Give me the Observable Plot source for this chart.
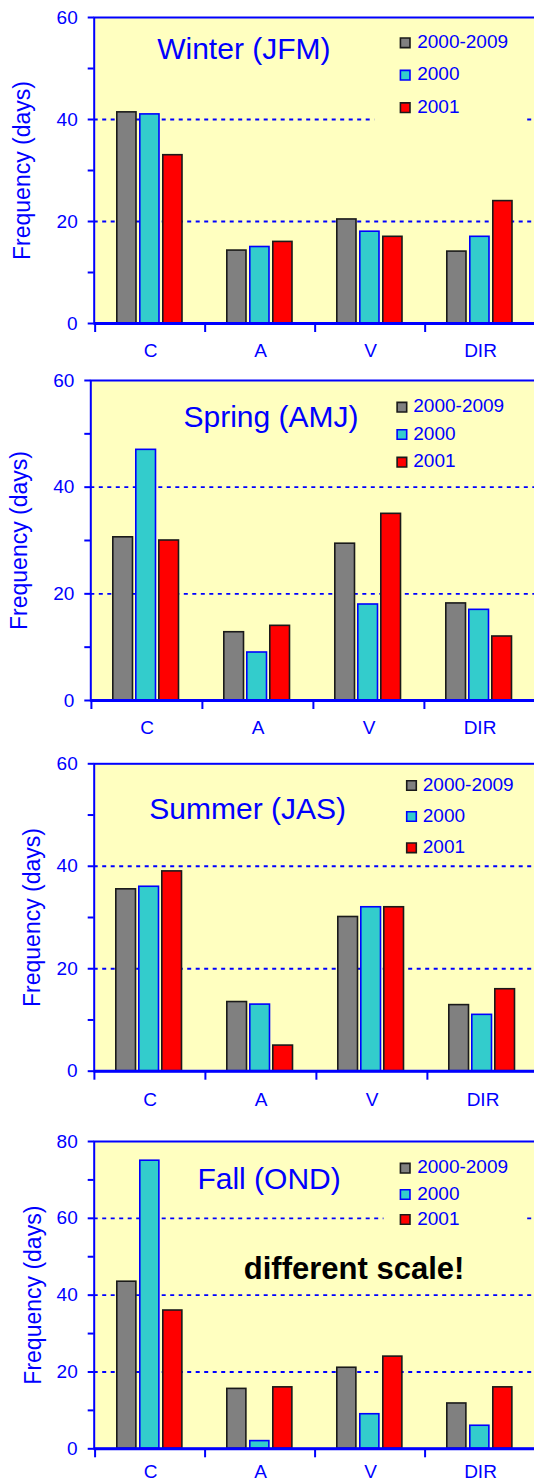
<!DOCTYPE html>
<html>
<head>
<meta charset="utf-8">
<script src="https://cdn.jsdelivr.net/npm/d3@7"></script>
<script src="https://cdn.jsdelivr.net/npm/@observablehq/plot@0.6"></script>
<style>
  html, body { margin: 0; padding: 0; background: #ffffff; }
  #chart svg { display: block; }
</style>
</head>
<body>
<div id="chart"></div>
<script>
// ---------- data ----------
const categories = ["C", "A", "V", "DIR"];
const seriesNames = ["2000-2009", "2000", "2001"];
const seasonTitles = ["Winter (JFM)", "Spring (AMJ)", "Summer (JAS)", "Fall (OND)"];
const yLabel = "Frequency (days)";
const scaleNote = "different scale!";
const yMaxes = [60, 60, 60, 80];

const winterMean = [41.4, 14.3, 20.4, 14.1];
const winter2000 = [41, 15, 18, 17];
const winter2001 = [33, 16, 17, 24];

const springMean = [30.6, 12.8, 29.4, 18.2];
const spring2000 = [47, 9, 18, 17];
const spring2001 = [30, 14, 35, 12];

const summerMean = [35.5, 13.5, 30.1, 12.9];
const summer2000 = [36, 13, 32, 11];
const summer2001 = [39, 5, 32, 16];

const fallMean = [43.5, 15.6, 21.1, 11.8];
const fall2000 = [75, 2, 9, 6];
const fall2001 = [36, 16, 24, 16];

const seasonSeries = [
  [winterMean, winter2000, winter2001],
  [springMean, spring2000, spring2001],
  [summerMean, summer2000, summer2001],
  [fallMean, fall2000, fall2001]
];

// ---------- styles & layout ----------
const BLUE = "#0000ff";
const BG = "#ffffc0";
const FILLS = ["#808080", "#33cccc", "#ff0000"];
const OUTLINES = ["#1a1a1a", "#0000ff", "#1a1a1a"];
const FONT = "'Liberation Sans', Arial, Helvetica, sans-serif";

const layout = [
  {h: 362, top: 17, bottom: 39, x0: 93.7, x1: 536.5, title: [63, 41.3], pad: 20,
   sq: 311, tx: 323, rows: [25.3, 57.7, 90.2], box: [280, 10, 11, 202], ylab: -71.7},
  {h: 378, top: 18, bottom: 40, x0: 90.3, x1: 535.1, title: [92.7, 46.7], pad: 20,
   sq: 311.1, tx: 322.5, rows: [26.7, 54, 81.7], box: [277, 12, 12, 220], ylab: -71.6},
  {h: 376, top: 23.3, bottom: 45.3, x0: 93.7, x1: 538.5, title: [55.1, 55], pad: 21,
   sq: 317.3, tx: 328.6, rows: [21.7, 52.7, 84], box: [286, 4, 8, 210], ylab: -61.3},
  {h: 365, top: 25, bottom: 32.7, x0: 93.7, x1: 537, title: [103.2, 47.3], pad: 16,
   sq: 311, tx: 323, rows: [26.7, 53, 78], box: [289.3, 10, 13, 215.3], ylab: -60.7,
   note: [149.6, 137.3]}
];

const container = document.getElementById("chart");

seasonTitles.forEach((title, k) => {
  const L = layout[k];
  const yMax = yMaxes[k];
  const data = [];
  seasonSeries[k].forEach((vals, s) => {
    categories.forEach((c, i) => data.push({category: c, series: seriesNames[s], value: vals[i]}));
  });
  const bw = (L.x1 - L.x0) / categories.length;

  const marks = [
    Plot.frame({fill: BG, stroke: "none"}),
    Plot.ruleY(d3.range(20, yMax, 20), {stroke: BLUE, strokeWidth: 1.8, strokeDasharray: "4,4.5"}),
    Plot.frame({fill: BG, stroke: "none",
      insetLeft: L.box[0], insetRight: L.box[1], insetTop: L.box[2], insetBottom: L.box[3]})
  ];

  seriesNames.forEach((name, s) => {
    const left = 21 + 23 * s;
    marks.push(Plot.barY(data.filter(d => d.series === name), {
      x: "category", y: "value", fill: "series",
      stroke: OUTLINES[s], strokeWidth: 1.6,
      insetLeft: left + 0.8, insetRight: bw - (left + 21.5) + 0.8
    }));
  });

  marks.push(
    Plot.frame({stroke: BLUE, strokeWidth: 2, insetRight: -4}),
    Plot.ruleY([0], {stroke: BLUE, strokeWidth: 3}),
    Plot.ruleX(categories, {x: d => d, y1: 0, y2: 0, insetBottom: -9, dx: -bw / 2,
      stroke: BLUE, strokeWidth: 2}),
    Plot.axisY({ticks: d3.range(0, yMax + 1, 10), tickSize: 6, tickPadding: 10.5,
      tickFormat: d => (d % 20 === 0 ? d : ""), fontSize: 19, strokeWidth: 2, label: null}),
    Plot.axisX({tickSize: 0, tickPadding: L.pad, fontSize: 19, label: null}),
    Plot.text([title], {text: d => d, frameAnchor: "top-left", dx: L.title[0], dy: L.title[1],
      textAnchor: "start", lineAnchor: "bottom", fontSize: 30, fill: BLUE}),
    Plot.text([yLabel], {text: d => d, frameAnchor: "left", dx: L.ylab, rotate: -90,
      textAnchor: "middle", lineAnchor: "middle", fontSize: 23, fill: BLUE})
  );

  seriesNames.forEach((name, s) => {
    marks.push(
      Plot.dot([name], {frameAnchor: "top-left", dx: L.sq, dy: L.rows[s], symbol: "square",
        r: 5.4, fill: d => d, stroke: OUTLINES[s], strokeWidth: 1.6}),
      Plot.text([name], {text: d => d, frameAnchor: "top-left", dx: L.tx, dy: L.rows[s] - 1,
        textAnchor: "start", lineAnchor: "middle", fontSize: 19, fill: BLUE})
    );
  });

  if (L.note) {
    marks.push(Plot.text([scaleNote], {text: d => d, frameAnchor: "top-left",
      dx: L.note[0], dy: L.note[1], textAnchor: "start", lineAnchor: "bottom",
      fontSize: 31, fontWeight: "bold", fill: "#000000"}));
  }

  const chart = Plot.plot({
    width: 534,
    height: L.h,
    marginTop: L.top,
    marginBottom: L.bottom,
    marginLeft: L.x0,
    marginRight: 0,
    style: {fontFamily: FONT, color: BLUE, background: "#ffffff", overflow: "visible"},
    x: {domain: categories, range: [L.x0, L.x1], padding: 0},
    y: {domain: [0, yMax]},
    color: {domain: seriesNames, range: FILLS},
    marks
  });
  container.appendChild(chart);
});
</script>
</body>
</html>
